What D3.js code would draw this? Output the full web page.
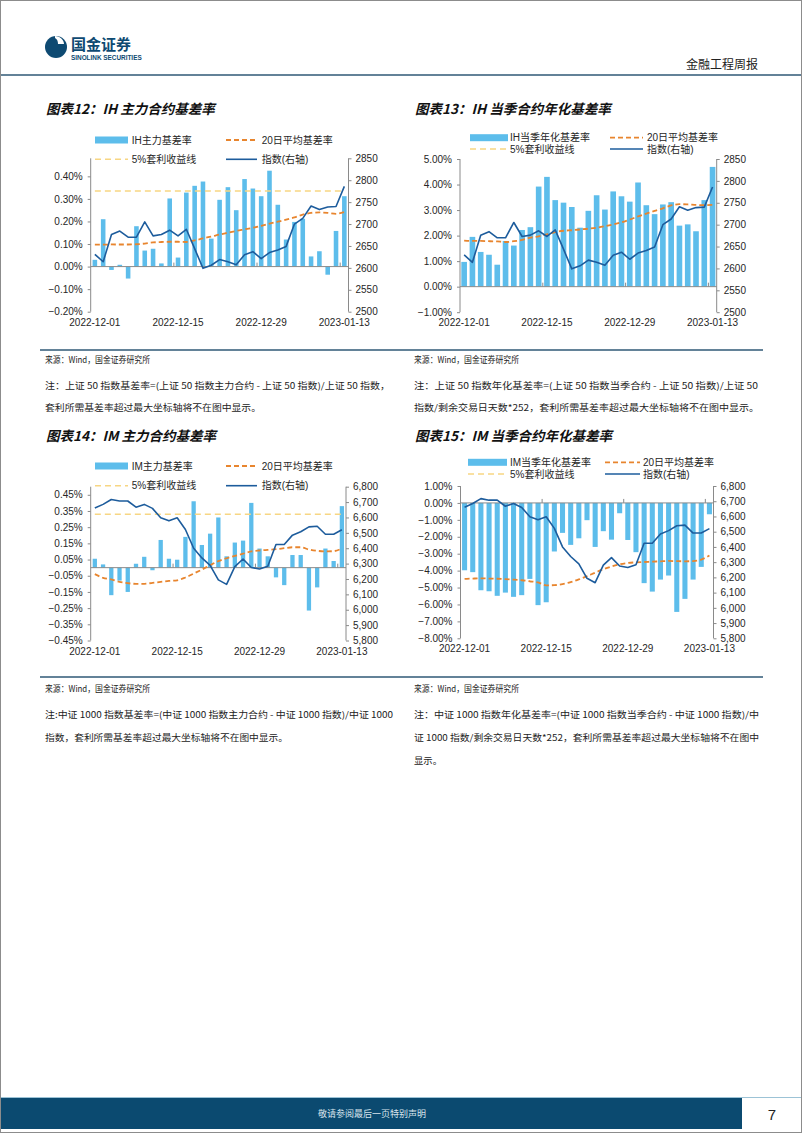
<!DOCTYPE html>
<html><head><meta charset="utf-8">
<script src="https://cdn.jsdelivr.net/npm/d3@7"></script>
<style>body{margin:0;background:#fff}svg{display:block}</style>
</head><body><svg id="page" width="802" height="1133"></svg>
<script>
// ---------------- DATA ----------------
const dates = ["2022-12-01","2022-12-02","2022-12-05","2022-12-06","2022-12-07","2022-12-08","2022-12-09","2022-12-12","2022-12-13","2022-12-14","2022-12-15","2022-12-16","2022-12-19","2022-12-20","2022-12-21","2022-12-22","2022-12-23","2022-12-26","2022-12-27","2022-12-28","2022-12-29","2022-12-30","2023-01-03","2023-01-04","2023-01-05","2023-01-06","2023-01-09","2023-01-10","2023-01-11","2023-01-12","2023-01-13"];
const xTickLabels = ["2022-12-01","2022-12-15","2022-12-29","2023-01-13"];

// IH 主力基差率 (%)
const ihMainBasis = [0.03,0.21,-0.015,0.008,-0.053,0.179,0.071,0.079,0.014,0.302,0.04,0.328,0.358,0.377,0.124,0.296,0.352,0.25,0.388,0.346,0.312,0.425,0.274,0.12,0.198,0.212,0.045,0.068,-0.036,0.158,0.312];
const ihMainAvg20 = [0.097,0.097,0.098,0.098,0.098,0.099,0.102,0.107,0.109,0.110,0.110,0.109,0.116,0.125,0.133,0.142,0.150,0.158,0.165,0.172,0.180,0.190,0.199,0.208,0.218,0.230,0.238,0.240,0.238,0.234,0.242];
const ihMainArb = 0.335;
// 上证50 指数
const sz50Index = [2631,2614,2676,2684,2670,2670,2705,2673,2676,2686,2673,2688,2644,2599,2606,2619,2614,2607,2630,2637,2621,2635,2641,2649,2700,2713,2741,2733,2739,2740,2786];

// IH 当季年化基差率 (%)
const ihQuarterBasis = [0.97,1.95,1.36,1.25,0.86,1.79,1.61,2.22,2.33,3.92,4.30,3.39,3.29,3.12,2.31,2.97,3.58,3.02,3.73,3.54,3.33,4.08,3.19,2.84,3.22,3.31,2.39,2.44,2.17,3.39,4.69];
const ihQuarterAvg20 = [1.80,1.79,1.79,1.78,1.77,1.75,1.78,1.83,1.92,1.97,2.05,2.14,2.19,2.21,2.24,2.27,2.31,2.37,2.44,2.52,2.63,2.75,2.86,2.97,3.07,3.18,3.23,3.22,3.20,3.19,3.20];

// IM 主力基差率 (%)
const imMainBasis = [0.055,0.02,-0.17,-0.08,-0.15,0.024,0.067,-0.016,0.171,0.055,0.049,0.19,0.41,0.14,0.21,0.31,0.07,0.155,0.167,0.40,0.118,0.07,-0.06,-0.108,0.078,0.078,-0.265,-0.122,0.118,0.041,0.38];
const imMainAvg20 = [-0.04,-0.063,-0.073,-0.088,-0.096,-0.10,-0.10,-0.094,-0.088,-0.082,-0.078,-0.061,-0.037,-0.012,0.015,0.04,0.058,0.072,0.086,0.100,0.106,0.110,0.114,0.120,0.126,0.126,0.112,0.104,0.100,0.102,0.118];
const imMainArb = 0.33;
// 中证1000 指数
const zz1000Index = [6661,6685,6717,6707,6707,6667,6685,6659,6598,6578,6598,6522,6400,6337,6289,6194,6165,6280,6330,6275,6265,6283,6424,6424,6485,6507,6539,6543,6491,6491,6520];

// IM 当季年化基差率 (%)
const imQuarterBasis = [-3.98,-4.09,-5.16,-5.22,-5.49,-5.30,-5.55,-5.45,-4.49,-6.04,-5.87,-2.87,-1.77,-2.48,-2.09,-1.02,-2.60,-1.67,-2.17,-0.61,-2.19,-2.91,-4.74,-5.24,-4.53,-4.29,-6.44,-5.67,-4.53,-3.78,-0.67];
const imQuarterAvg20 = [-4.49,-4.47,-4.46,-4.47,-4.48,-4.50,-4.53,-4.57,-4.63,-4.70,-4.87,-4.86,-4.80,-4.68,-4.52,-4.33,-4.12,-3.92,-3.76,-3.63,-3.55,-3.51,-3.49,-3.47,-3.45,-3.43,-3.44,-3.45,-3.44,-3.35,-3.11];

const ihLeftTicks = [-0.2,-0.1,0,0.1,0.2,0.3,0.4];
const ihqLeftTicks = [-1,0,1,2,3,4,5];
const sz50Ticks = [2500,2550,2600,2650,2700,2750,2800,2850];
const imLeftTicks = [-0.45,-0.35,-0.25,-0.15,-0.05,0.05,0.15,0.25,0.35,0.45];
const imqLeftTicks = [-8,-7,-6,-5,-4,-3,-2,-1,0,1];
const zzTicks = [5800,5900,6000,6100,6200,6300,6400,6500,6600,6700,6800];

// ---------------- STYLE ----------------
const FONT = "'Liberation Sans', Arial, 'Noto Sans CJK SC', sans-serif";
const CJK = "'Noto Sans CJK SC', 'Liberation Sans', sans-serif";
const C_BAR = "#5DBDEB", C_AVG = "#E8852E", C_ARB = "#F7D683", C_IDX = "#1D5C9C", C_AX = "#8a8a8a", C_TXT = "#262626";
const NAVY = "#0E4A72";

const svg = d3.select("#page");
svg.append("rect").attr("x",0.5).attr("y",0.5).attr("width",801).attr("height",1132).attr("fill","#fff").attr("stroke","#8c8c8c");

// ---------------- HEADER ----------------
const hdr = svg.append("g");
hdr.append("circle").attr("cx",56).attr("cy",47).attr("r",11).attr("fill",NAVY);
hdr.append("path").attr("d","M55,36 C60,36 64,40 64,44 L58,44 C58,41 57,39 55,38 Z").attr("fill","#fff");
hdr.append("text").attr("x",71).attr("y",50).text("国金证券").attr("font-family",CJK).attr("font-weight","bold").attr("font-size",15).attr("fill",NAVY);
hdr.append("text").attr("x",71).attr("y",60).text("SINOLINK SECURITIES").attr("font-family",FONT).attr("font-weight","bold").attr("font-size",6.4).attr("fill",NAVY);
hdr.append("text").attr("x",758).attr("y",69).attr("text-anchor","end").text("金融工程周报").attr("font-family",CJK).attr("font-size",12).attr("fill","#222");
hdr.append("line").attr("x1",1).attr("x2",801).attr("y1",75).attr("y2",75).attr("stroke","#2F5876").attr("stroke-width",1.6);

// ---------------- FOOTER ----------------
svg.append("line").attr("x1",1).attr("x2",801).attr("y1",1097.5).attr("y2",1097.5).attr("stroke","#9cc3d6").attr("stroke-width",1);
svg.append("rect").attr("x",1).attr("y",1098).attr("width",741).attr("height",31).attr("fill","#0B4A70");
svg.append("text").attr("x",372).attr("y",1117).attr("text-anchor","middle").text("敬请参阅最后一页特别声明").attr("font-family",CJK).attr("font-size",9).attr("fill","#d7e4ec");
svg.append("text").attr("x",772).attr("y",1120).attr("text-anchor","middle").text("7").attr("font-family",FONT).attr("font-size",15).attr("fill","#222");

// ---------------- TITLES / NOTES ----------------
function title(x,y,t){
  svg.append("text").attr("x",x).attr("y",y).text(t).attr("font-family",CJK).attr("font-weight","bold")
    .attr("font-style","italic").attr("font-size",13.5).attr("fill","#111");
}
title(46,114,"图表12：IH 主力合约基差率");
title(415,114,"图表13：IH 当季合约年化基差率");
title(46,441,"图表14：IM 主力合约基差率");
title(415,441,"图表15：IM 当季合约年化基差率");

svg.append("line").attr("x1",40).attr("x2",763).attr("y1",350).attr("y2",350).attr("stroke","#2F5876").attr("stroke-width",1.6);
svg.append("line").attr("x1",40).attr("x2",763).attr("y1",677).attr("y2",677).attr("stroke","#2F5876").attr("stroke-width",1.6);

function note(x,y,t,w){
  const el = svg.append("text").attr("x",x).attr("y",y).text(t).attr("font-family",CJK).attr("font-size",8.8).attr("fill","#222");
  if(w) el.attr("textLength",w).attr("lengthAdjust","spacingAndGlyphs");
}
note(45,363,"来源：Wind，国金证券研究所",105);
note(414,363,"来源：Wind，国金证券研究所",105);
note(45,389,"注：上证 50 指数基差率=(上证 50 指数主力合约 - 上证 50 指数)/上证 50 指数，",345);
note(45,411,"套利所需基差率超过最大坐标轴将不在图中显示。",216);
note(414,389,"注：上证 50 指数年化基差率=(上证 50 指数当季合约 - 上证 50 指数)/上证 50",344);
note(414,411,"指数/剩余交易日天数*252，套利所需基差率超过最大坐标轴将不在图中显示。",345);

note(45,692,"来源：Wind，国金证券研究所",105);
note(414,692,"来源：Wind，国金证券研究所",105);
note(45,718,"注:中证 1000 指数基差率=(中证 1000 指数主力合约 - 中证 1000 指数)/中证 1000",348);
note(45,741,"指数，套利所需基差率超过最大坐标轴将不在图中显示。",243);
note(414,718,"注：中证 1000 指数年化基差率=(中证 1000 指数当季合约 - 中证 1000 指数)/中",345);
note(414,741,"证 1000 指数/剩余交易日天数*252，套利所需基差率超过最大坐标轴将不在图中",345);
note(414,764,"显示。",28);

// ---------------- CHART FUNCTION ----------------
function drawChart(cfg){
  const g = svg.append("g");
  const x = d3.scaleBand().domain(d3.range(dates.length)).range([cfg.left,cfg.right]).paddingInner(cfg.pad).paddingOuter(cfg.pad/2);
  const yL = d3.scaleLinear().domain(cfg.yL).range([cfg.bottom,cfg.top]);
  const yR = d3.scaleLinear().domain(cfg.yR).range([cfg.bottom,cfg.top]);
  const cx = i => x(i) + x.bandwidth()/2;

  // bars
  g.append("g").selectAll("rect").data(cfg.bars).join("rect")
    .attr("x",(d,i)=>x(i)).attr("width",x.bandwidth())
    .attr("y",d=>yL(Math.max(0,d))).attr("height",d=>Math.abs(yL(d)-yL(0)))
    .attr("fill",C_BAR);

  // category axis at zero
  const y0 = yL(0);
  g.append("line").attr("x1",cfg.left).attr("x2",cfg.right).attr("y1",y0).attr("y2",y0).attr("stroke",C_AX).attr("stroke-width",1);
  const step = x.step();
  [10,20,30].forEach(k=>{
    const xx = cfg.left + step*k;
    g.append("line").attr("x1",xx).attr("x2",xx).attr("y1",y0).attr("y2",y0-4).attr("stroke",C_AX);
  });
  xTickLabels.forEach(lbl=>{
    const i = dates.indexOf(lbl);
    g.append("text").attr("x",cx(i)).attr("y",cfg.bottom+14).attr("text-anchor","middle")
      .text(lbl).attr("font-family",FONT).attr("font-size",10).attr("fill",C_TXT);
  });

  // arbitrage line
  if(cfg.arb!=null){
    g.append("line").attr("x1",cx(0)).attr("x2",cx(dates.length-1)).attr("y1",yL(cfg.arb)).attr("y2",yL(cfg.arb))
      .attr("stroke",C_ARB).attr("stroke-width",1.6).attr("stroke-dasharray","6,4");
  }
  // 20-day avg
  g.append("path").datum(cfg.avg).attr("fill","none").attr("stroke",C_AVG).attr("stroke-width",1.8)
    .attr("stroke-dasharray","5,3")
    .attr("d",d3.line().x((d,i)=>cx(i)).y(d=>yL(d)).curve(d3.curveMonotoneX));
  // index line
  g.append("path").datum(cfg.idx).attr("fill","none").attr("stroke",C_IDX).attr("stroke-width",1.6)
    .attr("stroke-linejoin","round")
    .attr("d",d3.line().x((d,i)=>cx(i)).y(d=>yR(d)));

  // left axis
  const axL = g.append("g").attr("transform",`translate(${cfg.left},0)`)
    .call(d3.axisLeft(yL).tickValues(cfg.lTicks).tickSize(3).tickSizeOuter(0).tickPadding(5)
      .tickFormat(d=>d3.format(cfg.lFmt)(d)+"%"));
  const axR = g.append("g").attr("transform",`translate(${cfg.right},0)`)
    .call(d3.axisRight(yR).tickValues(cfg.rTicks).tickSize(3).tickSizeOuter(0).tickPadding(4)
      .tickFormat(d3.format(cfg.rFmt)));
  [axL,axR].forEach(a=>{
    a.select(".domain").attr("stroke",C_AX).attr("d", null);
    a.selectAll(".tick line").attr("stroke",C_AX);
    a.selectAll("text").attr("font-family",FONT).attr("font-size",10).attr("fill",C_TXT);
  });
  axL.append("line").attr("x1",0).attr("x2",0).attr("y1",cfg.top).attr("y2",cfg.bottom).attr("stroke",C_AX);
  axR.append("line").attr("x1",0).attr("x2",0).attr("y1",cfg.top).attr("y2",cfg.bottom).attr("stroke",C_AX);

  // legend
  const L = cfg.legend;
  const lg = g.append("g");
  const items = [
    {row:0,col:0,type:"bar",text:cfg.barName},
    {row:0,col:1,type:"avg",text:"20日平均基差率"},
    {row:1,col:0,type:"arb",text:"5%套利收益线"},
    {row:1,col:1,type:"idx",text:"指数(右轴)"}
  ];
  items.forEach(it=>{
    const yy = L.rows[it.row];
    const sw = L.cols[it.col];
    if(it.type==="bar") lg.append("rect").attr("x",sw[0]).attr("y",yy-3.5).attr("width",sw[1]-sw[0]).attr("height",7).attr("fill",C_BAR);
    if(it.type==="avg") lg.append("line").attr("x1",sw[0]).attr("x2",sw[1]).attr("y1",yy).attr("y2",yy).attr("stroke",C_AVG).attr("stroke-width",1.8).attr("stroke-dasharray","5,3");
    if(it.type==="arb") lg.append("line").attr("x1",sw[0]).attr("x2",sw[1]).attr("y1",yy).attr("y2",yy).attr("stroke",C_ARB).attr("stroke-width",1.6).attr("stroke-dasharray","6,4");
    if(it.type==="idx") lg.append("line").attr("x1",sw[0]).attr("x2",sw[1]).attr("y1",yy).attr("y2",yy).attr("stroke",C_IDX).attr("stroke-width",1.6);
    lg.append("text").attr("x",sw[2]).attr("y",yy).attr("dy","0.35em").text(it.text)
      .attr("font-family",FONT).attr("font-size",10).attr("fill",C_TXT);
  });
}

drawChart({left:90.7,right:348.5,top:158.3,bottom:311.7,pad:0.45,yL:[-0.2,0.48],yR:[2500,2850],
  bars:ihMainBasis,avg:ihMainAvg20,arb:ihMainArb,idx:sz50Index,lTicks:ihLeftTicks,lFmt:".2f",rTicks:sz50Ticks,rFmt:"d",
  barName:"IH主力基差率",legend:{rows:[140,159.3],cols:[[95,128,131.7],[226,257,261.7]]}});

drawChart({left:460,right:716.7,top:159,bottom:312.2,pad:0.32,yL:[-1,5],yR:[2500,2850],
  bars:ihQuarterBasis,avg:ihQuarterAvg20,arb:null,idx:sz50Index,lTicks:ihqLeftTicks,lFmt:".2f",rTicks:sz50Ticks,rFmt:"d",
  barName:"IH当季年化基差率",legend:{rows:[137.7,149],cols:[[470,508,510],[610,643,647]]}});

drawChart({left:90.7,right:346,top:486.7,bottom:640.5,pad:0.48,yL:[-0.45,0.5],yR:[5800,6800],
  bars:imMainBasis,avg:imMainAvg20,arb:imMainArb,idx:zz1000Index,lTicks:imLeftTicks,lFmt:".2f",rTicks:zzTicks,rFmt:",",
  barName:"IM主力基差率",legend:{rows:[466,485.7],cols:[[95,128,131.7],[226,257,261.7]]}});

drawChart({left:460.5,right:713.5,top:486,bottom:638.3,pad:0.38,yL:[-8,1],yR:[5800,6800],
  bars:imQuarterBasis,avg:imQuarterAvg20,arb:null,idx:zz1000Index,lTicks:imqLeftTicks,lFmt:".2f",rTicks:zzTicks,rFmt:",",
  barName:"IM当季年化基差率",legend:{rows:[462.3,474],cols:[[468,507,510],[605,640,643]]}});
</script></body></html>
